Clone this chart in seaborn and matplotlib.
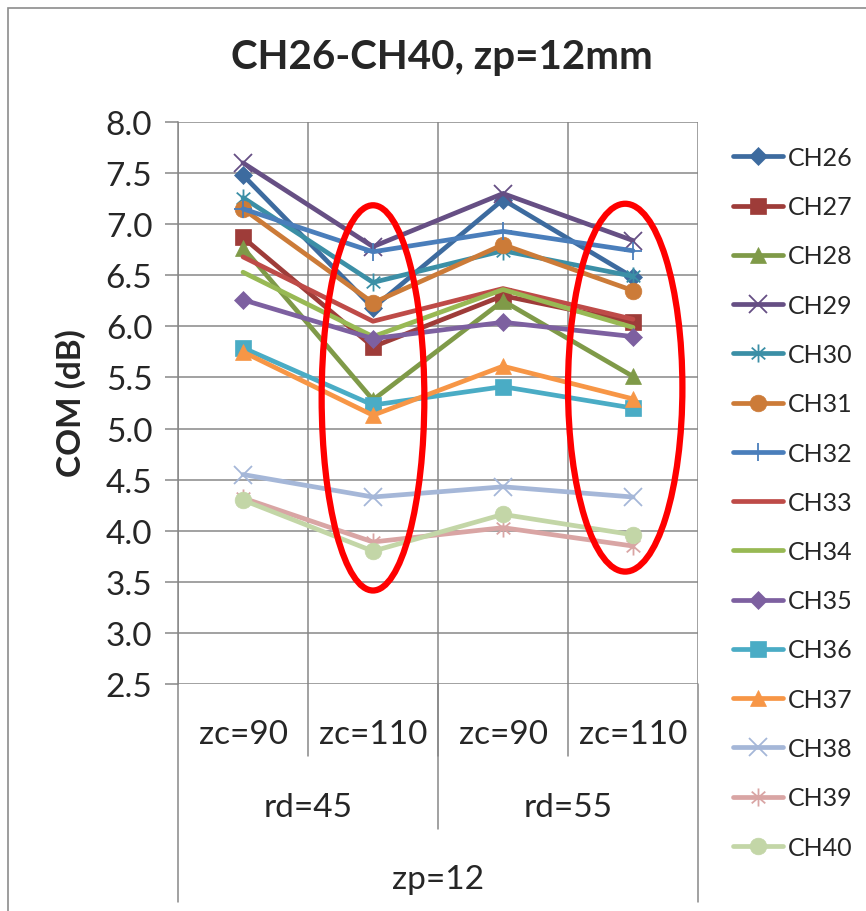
import numpy as np
import pandas as pd
import matplotlib
matplotlib.use("Agg")
import matplotlib.pyplot as plt
import seaborn as sns
from matplotlib.path import Path
from matplotlib.patches import Ellipse, Rectangle
from matplotlib.transforms import blended_transform_factory

# categories (multi-level x axis)
zp_levels = ["zp=12", "zp=12", "zp=12", "zp=12"]
rd_levels = ["rd=45", "rd=45", "rd=55", "rd=55"]
zc_levels = ["zc=90", "zc=110", "zc=90", "zc=110"]

channels = ["CH26", "CH27", "CH28", "CH29", "CH30", "CH31", "CH32", "CH33",
            "CH34", "CH35", "CH36", "CH37", "CH38", "CH39", "CH40"]

ch26 = [7.48, 6.18, 7.24, 6.48]
ch27 = [6.87, 5.80, 6.30, 6.04]
ch28 = [6.77, 5.28, 6.25, 5.51]
ch29 = [7.60, 6.78, 7.30, 6.84]
ch30 = [7.26, 6.43, 6.74, 6.49]
ch31 = [7.15, 6.23, 6.80, 6.35]
ch32 = [7.15, 6.73, 6.93, 6.74]
ch33 = [6.68, 6.05, 6.37, 6.07]
ch34 = [6.53, 5.90, 6.36, 5.99]
ch35 = [6.26, 5.88, 6.04, 5.90]
ch36 = [5.79, 5.23, 5.41, 5.20]
ch37 = [5.75, 5.13, 5.61, 5.29]
ch38 = [4.55, 4.33, 4.43, 4.33]
ch39 = [4.32, 3.89, 4.03, 3.85]
ch40 = [4.30, 3.80, 4.16, 3.96]
series = [ch26, ch27, ch28, ch29, ch30, ch31, ch32, ch33,
          ch34, ch35, ch36, ch37, ch38, ch39, ch40]

colors = ["#3D6B9F", "#9E3C39", "#7F9A48", "#664F84", "#3B8FA6", "#CC7B38",
          "#4A7EBB", "#BE4B48", "#98B954", "#7D60A0", "#4AACC5", "#F79646",
          "#A5B7D8", "#D9A5A4", "#C3D6A7"]

# excel style "star" marker: vertical bar plus an x
star = Path([(0, -1), (0, 1), (-0.75, -0.65), (0.75, 0.65), (-0.75, 0.65), (0.75, -0.65)],
            [Path.MOVETO, Path.LINETO] * 3)
markers = ["D", "s", "^", "x", star, "o", "+", None, None, "D", "s", "^", "x", star, "o"]
msizes = {"D": 9, "s": 12, "^": 12, "x": 13, "o": 12, "+": 13, None: 0}

yticks = [2.5, 3.0, 3.5, 4.0, 4.5, 5.0, 5.5, 6.0, 6.5, 7.0, 7.5, 8.0]

sns.set_theme(style="white")
plt.rcParams["font.family"] = ["Lato", "DejaVu Sans"]

fig = plt.figure(figsize=(8.66, 9.12), dpi=100)
ax = fig.add_axes([178 / 866, 1 - 685 / 912, 520 / 866, 562 / 912])

x = np.arange(len(zc_levels))
grid_c = "#878787"
fs = 24

for name, vals, col, mk in zip(channels, series, colors, markers):
    df = pd.DataFrame({"pos": x, "COM": vals})
    size = msizes[mk] if isinstance(mk, str) or mk is None else 13
    unfilled = mk in ("x", "+") or isinstance(mk, Path)
    sns.lineplot(data=df, x="pos", y="COM", ax=ax, color=col, linewidth=3.4,
                 marker=mk if mk is not None else "", markersize=size,
                 markeredgecolor=col, markerfacecolor=col,
                 markeredgewidth=1.3 if unfilled else 0.5,
                 label=name, zorder=3)

# red ellipses around the zc=110 columns
ax.add_patch(Ellipse((1.0, 5.30), 0.79, 3.77, fill=False, ec="#FF0000", lw=4.5, zorder=5))
ax.add_patch(Ellipse((2.94, 5.40), 0.88, 3.60, fill=False, ec="#FF0000", lw=4.5, zorder=5))

ax.set_xlim(-0.5, 3.5)
ax.set_ylim(2.5, 8.0)
ax.set_yticks(yticks)
ax.set_yticklabels([f"{v:.1f}" for v in yticks], fontsize=fs)
ax.set_xticks([])
ax.set_xticks(np.arange(-0.5, 4.0, 1.0), minor=True)
ax.set_xlabel("")
ax.set_ylabel("")
ax.grid(True, axis="y", which="major", color=grid_c, lw=1.1)
ax.grid(True, axis="x", which="minor", color=grid_c, lw=1.1)
ax.tick_params(axis="y", which="major", length=9.5, width=1.1, color=grid_c, pad=9, left=True)
ax.tick_params(axis="x", which="both", length=0, labelbottom=False)
for side in ["top", "right", "bottom"]:
    ax.spines[side].set_visible(False)
ax.spines["left"].set_color(grid_c)
ax.spines["left"].set_linewidth(1.1)

# multi level category labels
tr = blended_transform_factory(ax.transData, ax.transAxes)
h = 562.0
for i, lab in enumerate(zc_levels):
    ax.text(i, -50 / h, lab, transform=tr, ha="center", va="center", fontsize=fs)
for b in [0.5, 1.5, 2.5]:
    ax.plot([b, b], [0, -72 / h], transform=tr, color=grid_c, lw=1.1, clip_on=False)
ax.plot([1.5, 1.5], [0, -145 / h], transform=tr, color=grid_c, lw=1.1, clip_on=False)
for b in [-0.5, 3.5]:
    ax.plot([b, b], [0, -218 / h], transform=tr, color=grid_c, lw=1.1, clip_on=False)
rd_groups = pd.Series(x).groupby(pd.Series(rd_levels)).mean()
for lab, pos in rd_groups.items():
    ax.text(pos, -123 / h, lab, transform=tr, ha="center", va="center", fontsize=fs)
ax.text(np.mean(x), -195 / h, zp_levels[0], transform=tr, ha="center", va="center", fontsize=fs)

fig.text(442 / 866, 1 - 58 / 912, "CH26-CH40, zp=12mm", ha="center", va="center",
         fontsize=29, fontweight="bold")
fig.text(71 / 866, 1 - 403 / 912, "COM (dB)", ha="center", va="center", rotation=90,
         fontsize=fs, fontweight="bold")

# legend
handles, labels = ax.get_legend_handles_labels()
ax.get_legend().remove() if ax.get_legend() else None
fig.legend(handles, labels, loc="upper left", bbox_to_anchor=(733 / 866, 1 - 147 / 912),
           frameon=False, fontsize=18, handlelength=2.0, handletextpad=0.2,
           labelspacing=1.05, borderpad=0, borderaxespad=0)

# chart area border
fig.patches.append(Rectangle((8 / 866, -0.1), 2.0, (912 - 9) / 912 + 0.1, transform=fig.transFigure,
                             fill=False, ec="#8C8C8C", lw=1.2))

fig.savefig("out.png", dpi=100)
